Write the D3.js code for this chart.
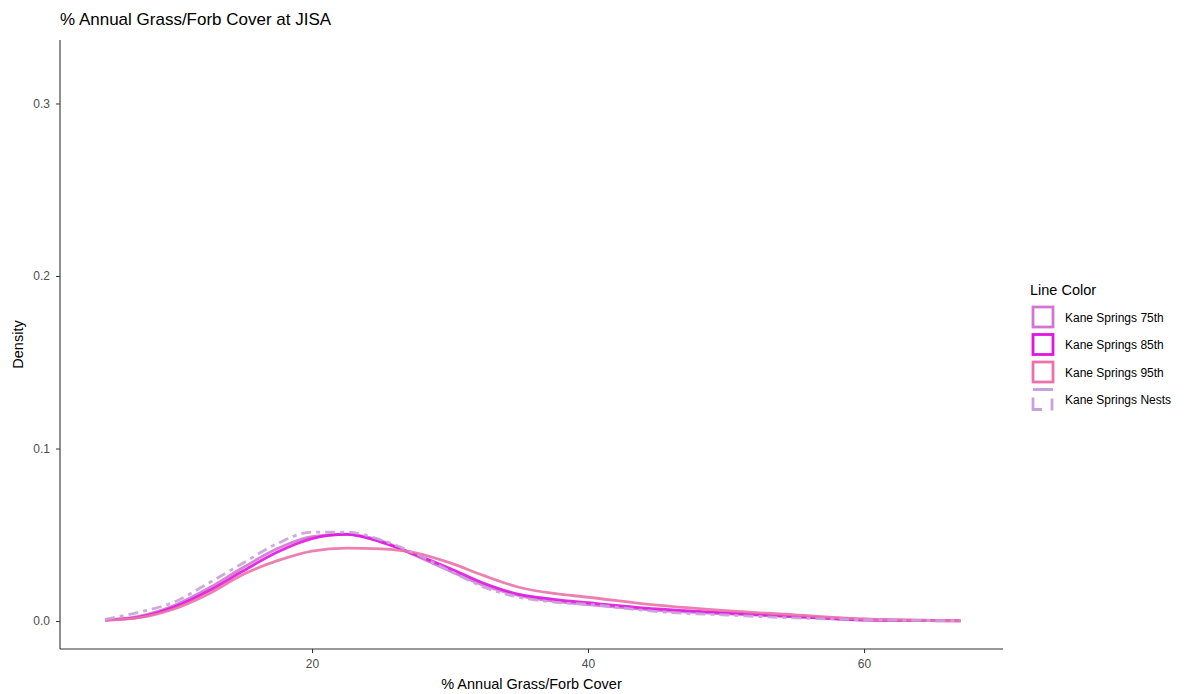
<!DOCTYPE html>
<html>
<head>
<meta charset="utf-8">
<title>% Annual Grass/Forb Cover at JISA</title>
<script src="https://d3js.org/d3.v7.min.js"></script>
<style>
  body { margin: 0; background: #fff; }
  text { font-family: "Liberation Sans", Arial, sans-serif; }
</style>
</head>
<body>
<svg id="chart" width="1200" height="694"></svg>
<script>
// x grid of the density estimates (% cover)
const cover = [5, 7.5, 10, 12.5, 15, 17.5, 20, 22.5, 25, 27.5, 30, 32.5, 35, 37.5, 40, 45, 50, 55, 60, 65, 67];

// density values, one array per series
const ks75 = [0.0006, 0.0028, 0.009, 0.019, 0.031, 0.042, 0.049, 0.0503, 0.0465, 0.038, 0.029, 0.0205, 0.0148, 0.0115, 0.0095, 0.0062, 0.0042, 0.0026, 0.0011, 0.0004, 0.0002];
const ks85 = [0.0006, 0.0023, 0.0081, 0.0174, 0.029, 0.040, 0.0478, 0.0502, 0.0458, 0.0385, 0.0305, 0.0218, 0.0155, 0.0126, 0.0106, 0.007, 0.0048, 0.0026, 0.0006, 0.0002, 0.0001];
const ks95 = [0.0005, 0.002, 0.007, 0.0157, 0.027, 0.035, 0.0406, 0.0423, 0.0418, 0.0395, 0.0337, 0.0262, 0.0196, 0.016, 0.0138, 0.0092, 0.006, 0.0036, 0.0012, 0.0003, 0.0001];
const ksNests = [0.001, 0.0052, 0.011, 0.022, 0.0336, 0.045, 0.0516, 0.0516, 0.047, 0.039, 0.029, 0.0195, 0.0138, 0.011, 0.0097, 0.0055, 0.0035, 0.0018, 0.0008, 0.0003, 0.0002];

const seriesNames = ["Kane Springs 75th", "Kane Springs 85th", "Kane Springs 95th", "Kane Springs Nests"];
const seriesValues = [ks75, ks85, ks95, ksNests];
const seriesColors = ["#d276d2", "#e015e0", "#ea72a8", "#c9a2db"];
const seriesDash = [null, null, null, "10,5,4,5"];

const xTicks = [20, 40, 60];
const yTicks = [0.0, 0.1, 0.2, 0.3];

const svg = d3.select("#chart");
const panel = { left: 60, right: 1003, top: 40, bottom: 649 };

const x = d3.scaleLinear().domain([1.74, 70.07]).range([panel.left, panel.right]);
const y = d3.scaleLinear().domain([-0.0162, 0.3368]).range([panel.bottom, panel.top]);

// title
svg.append("text")
    .attr("x", 60).attr("y", 25)
    .attr("font-size", 17).attr("fill", "#000")
    .text("% Annual Grass/Forb Cover at JISA");

// curves
const line = d3.line()
    .x((d, i) => x(cover[i]))
    .y(d => y(d))
    .curve(d3.curveMonotoneX);

seriesValues.forEach((vals, k) => {
    svg.append("path")
        .attr("d", line(vals))
        .attr("fill", "none")
        .attr("stroke", seriesColors[k])
        .attr("stroke-width", 2.8)
        .attr("stroke-opacity", 0.9)
        .attr("stroke-dasharray", seriesDash[k]);
});

// axes
const xAxis = svg.append("g")
    .attr("transform", `translate(0,${panel.bottom})`)
    .call(d3.axisBottom(x).tickValues(xTicks).tickSize(4).tickPadding(6).tickFormat(d3.format("d")));
const yAxis = svg.append("g")
    .attr("transform", `translate(${panel.left},0)`)
    .call(d3.axisLeft(y).tickValues(yTicks).tickSize(4).tickPadding(6).tickFormat(d3.format(".1f")));

[xAxis, yAxis].forEach(g => {
    g.select(".domain").attr("stroke", "#333").attr("stroke-width", 1.1);
    g.selectAll(".tick line").attr("stroke", "#333");
    g.selectAll(".tick text").attr("fill", "#4d4d4d").attr("font-size", 12)
        .style("font-family", "'Liberation Sans', Arial, sans-serif");
});
// ggplot-style axis lines: domain line without outer ticks across full panel
xAxis.select(".domain").attr("d", `M${panel.left},0H${panel.right}`);
yAxis.select(".domain").attr("d", `M0,${panel.top}V${panel.bottom}`);

// axis titles
svg.append("text")
    .attr("x", (panel.left + panel.right) / 2).attr("y", 689)
    .attr("text-anchor", "middle").attr("font-size", 14.5)
    .text("% Annual Grass/Forb Cover");
svg.append("text")
    .attr("transform", `translate(23,${(panel.top + panel.bottom) / 2}) rotate(-90)`)
    .attr("text-anchor", "middle").attr("font-size", 14.5)
    .text("Density");

// legend
const legend = svg.append("g").attr("transform", "translate(1030,0)");
legend.append("text")
    .attr("x", 0).attr("y", 295)
    .attr("font-size", 14.5)
    .text("Line Color");

seriesNames.forEach((name, k) => {
    const cy = 317 + k * 27.5;
    const key = legend.append("g");
    if (seriesDash[k]) {
        key.append("path")
            .attr("d", `M3,${cy - 10}H23 M3,${cy - 2}V${cy + 10}H12 M22,${cy - 1}V${cy + 11}`)
            .attr("fill", "none")
            .attr("stroke", seriesColors[k])
            .attr("stroke-width", 2.8);
    } else {
        key.append("rect")
            .attr("x", 3).attr("y", cy - 10)
            .attr("width", 20).attr("height", 20)
            .attr("fill", "none")
            .attr("stroke", seriesColors[k])
            .attr("stroke-width", 2.8);
    }
    legend.append("text")
        .attr("x", 35).attr("y", cy + 4.5)
        .attr("font-size", 12)
        .text(name);
});
</script>
</body>
</html>
